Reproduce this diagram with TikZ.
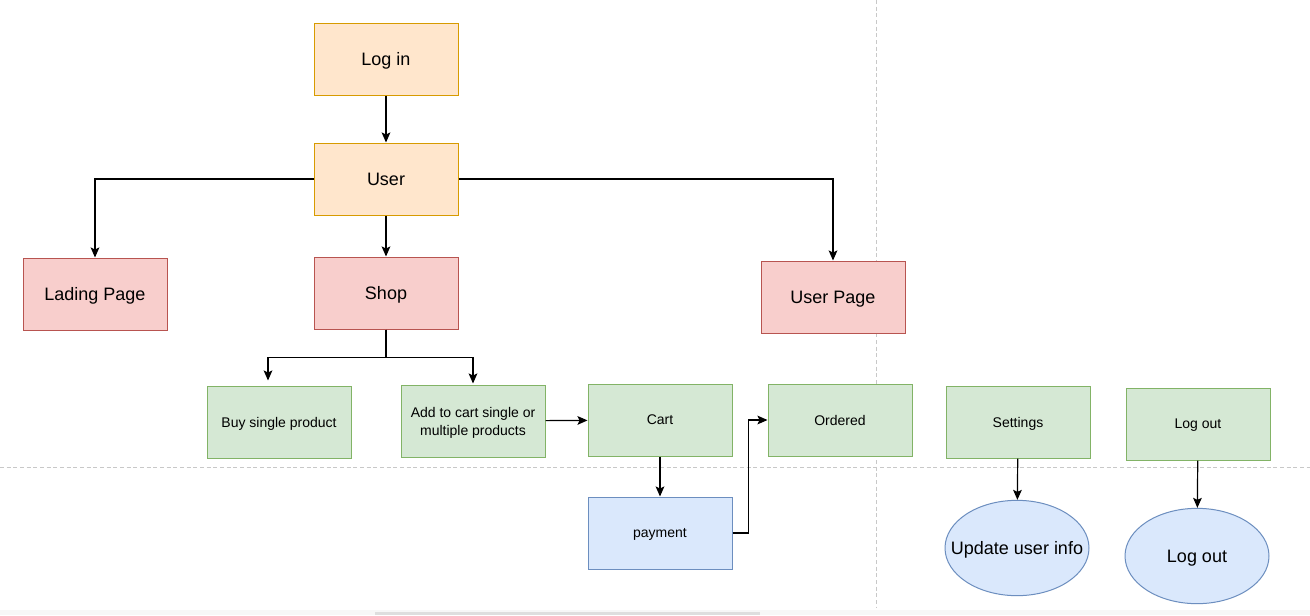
\documentclass[tikz,border=0pt]{standalone}
\usepackage{fontspec}
\setmainfont{Liberation Sans}
\usetikzlibrary{arrows.meta, shapes.geometric, positioning}
\usetikzlibrary{calc}
\usepackage{xcolor}

\definecolor{orfill}{HTML}{FFE6CC}
\definecolor{orline}{HTML}{D79B00}
\definecolor{rdfill}{HTML}{F8CECC}
\definecolor{rdline}{HTML}{B85450}
\definecolor{grfill}{HTML}{D5E8D4}
\definecolor{grline}{HTML}{82B366}
\definecolor{blfill}{HTML}{DAE8FC}
\definecolor{blline}{HTML}{6C8EBF}
\definecolor{pagebrk}{HTML}{C8C8C8}

\tikzset{
  box/.style={draw, rectangle, line width=0.75pt, minimum width=108pt, minimum height=54pt,
    inner sep=2pt, align=center, text depth=0pt},
  bigtext/.style={font=\fontsize{13.5}{16}\selectfont},
  smalltext/.style={font=\fontsize{10.5}{13.5}\selectfont},
  orbox/.style={box, bigtext, fill=orfill, draw=orline},
  rdbox/.style={box, bigtext, fill=rdfill, draw=rdline},
  grbox/.style={box, smalltext, fill=grfill, draw=grline},
  blbox/.style={box, smalltext, fill=blfill, draw=blline},
  bloval/.style={draw=blline, fill=blfill, ellipse, line width=0.75pt, bigtext,
    minimum width=108pt, minimum height=71.5pt, inner xsep=-12pt, inner ysep=0pt, text depth=0pt},
  conn/.style={draw, line width=0.9pt, -{Stealth[length=7.5pt, width=6.5pt, inset=1.5pt]}},
  pagebreak/.style={pagebrk, line width=0.75pt, dash pattern=on 3pt off 2pt}
}

\begin{document}
\begin{tikzpicture}[x=0.75pt, y=-0.75pt]
	\useasboundingbox (0,0) rectangle (1310,615);
	\fill[white] (0,0) rectangle (1310,615);
	% page breaks and window strip
	\draw[pagebreak] (876,0) -- (876,608);
	\draw[pagebreak] (0,467) -- (1310,467);
	\fill[black!3] (0,610) rectangle (1310,615);
	\fill[black!13] (375,612) rectangle (760,615);

	% top of the tree
	\node[orbox] (login) at (386,59) {Log in};
	\node[orbox] (user) at (386,179) {User};
	\node[rdbox] (landing) at (95,294) {Lading Page};
	\node[rdbox] (shop) at (386,293) {Shop};
	\node[rdbox] (userpage) at (833,297) {User Page};

	% shop row
	\node[grbox] (buysingle) at (279,422) {Buy single product};
	\node[grbox] (addcart) at (473,421) {Add to cart single or\\multiple products};
	\node[grbox] (cart) at (660,420) {Cart};
	\node[grbox] (ordered) at (840,420) {Ordered};
	\node[blbox] (payment) at (660,533) {payment};

	% user page row
	\node[grbox] (settings) at (1018,422) {Settings};
	\node[grbox] (logoutbox) at (1198,424) {Log out};
	\node[bloval] (updateinfo) at (1017,548) {Update user info};
	\node[bloval] (logoutoval) at (1197,556) {Log out};

	% connectors
	\draw[conn] (login) -- (user);
	\draw[conn] (user.west) -| (landing.north);
	\draw[conn] (user) -- (shop);
	\draw[conn] (user.east) -| (userpage.north);
	\coordinate (buyend) at ($(buysingle.north)+(-11,-5)$);
	\coordinate (addend) at ($(addcart.north)+(0,-1)$);
	\draw[conn] (shop.south) -- ++(0,28) -| (buyend);
	\draw[conn] (shop.south) -- ++(0,28) -| (addend);
	\draw[conn] (addcart) -- (cart);
	\draw[conn] (cart) -- (payment);
	\draw[conn] (payment.east) -- ++(16,0) |- (ordered.west);
	\draw[conn] (settings) -- (updateinfo);
	\draw[conn] (logoutbox) -- (logoutoval);
\end{tikzpicture}
\end{document}
